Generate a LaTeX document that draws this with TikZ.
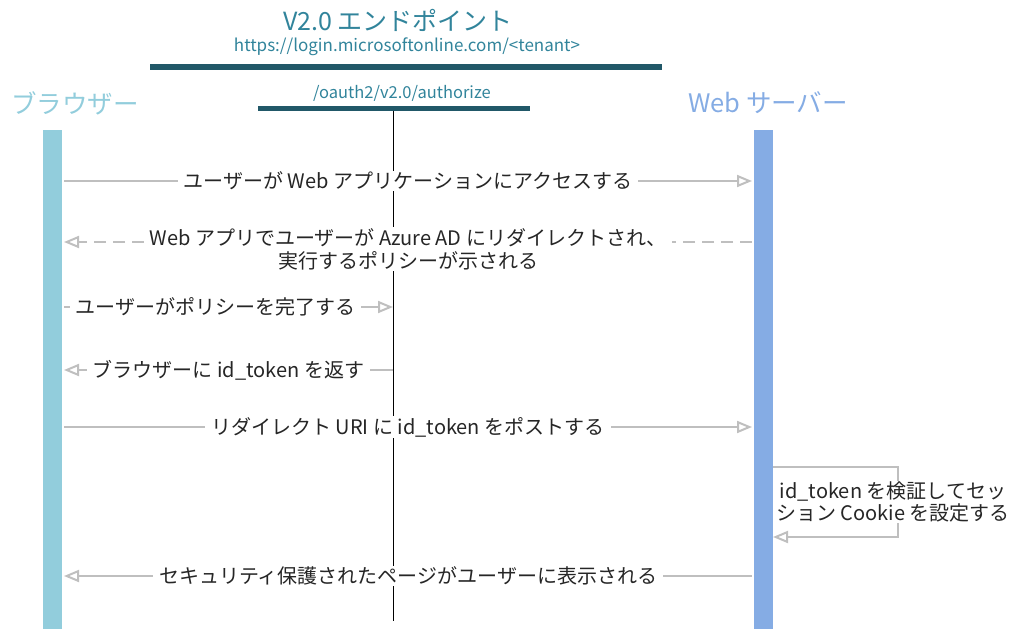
\documentclass[tikz,border=0pt]{standalone}
\usepackage{fontspec}
\setmainfont{Noto Sans CJK JP}
\usetikzlibrary{arrows.meta}

\definecolor{endpt}{HTML}{31849B}
\definecolor{endbar}{HTML}{215868}
\definecolor{brwcol}{HTML}{92CDDC}
\definecolor{srvcol}{HTML}{85ACE4}
\definecolor{msgcol}{HTML}{BFBFBF}

\begin{document}
\begin{tikzpicture}[x=1pt, y=-1pt, >={Triangle[open, length=15pt, width=12pt]},
  bar/.style={fill=endbar, inner sep=0pt, minimum height=5pt},
  life/.style={inner sep=0pt, minimum width=19pt, minimum height=499pt, anchor=north},
  head/.style={font=\fontsize{25.5}{29}\selectfont},
  msg/.style={draw=msgcol, line width=2pt},
  lbl/.style={fill=white, inner xsep=6pt, inner ysep=1pt, align=center, text=black!85,
    font=\fontsize{20}{23}\selectfont}]
  \useasboundingbox (0,0) rectangle (1011,629);

  % endpoint header
  \node[head, text=endpt, font=\fontsize{25}{29}\selectfont] (eptitle) at (398,20) {V2.0 エンドポイント};
  \node[text=endpt, font=\fontsize{17}{20}\selectfont] (epurl) at (407,47) {https://login.microsoftonline.com/<tenant>};
  \node[bar, minimum width=512pt, minimum height=6pt] (epbar) at (406,67) {};
  \node[text=endpt, font=\fontsize{16.5}{20}\selectfont] (authtext) at (402,93) {/oauth2/v2.0/authorize};
  \node[bar, minimum width=272pt] (authbar) at (394,108) {};

  % browser and web server
  \node[head, text=brwcol] (brwtitle) at (75,103) {ブラウザー};
  \node[head, text=srvcol] (srvtitle) at (768,103) {Web サーバー};
  \node[life, fill=brwcol] (brw) at (52.5,130) {};
  \node[life, fill=srvcol] (srv) at (763.5,130) {};

  \coordinate (authend) at (393,621);
  \draw[line width=0.9pt] (authbar.south -| authend) -- (authend);

  \foreach \n/\y in {1/181,2/242,3/307,4/370,5/427,7/576} {
    \coordinate (b\n) at (64,\y);
    \coordinate (m\n) at (393,\y);
    \coordinate (s\n) at (752,\y);
  }
  \coordinate (s6a) at (773,467);
  \coordinate (s6b) at (898,467);
  \coordinate (s6c) at (898,537);
  \coordinate (s6d) at (773,537);

  % messages
  \draw[msg, ->] (b1) -- (s1) node[lbl, midway] {ユーザーが Web アプリケーションにアクセスする};
  \draw[msg, ->, dash pattern=on 12pt off 7pt] (s2) -- (b2)
    node[lbl, midway, yshift=-7pt] {Web アプリでユーザーが Azure AD にリダイレクトされ、\\実行するポリシーが示される};
  \draw[msg, ->] (b3) -- (m3) node[lbl, pos=0.46] {ユーザーがポリシーを完了する};
  \draw[msg, ->] (m4) -- (b4) node[lbl, midway] {ブラウザーに id\_token を返す};
  \draw[msg, ->] (b5) -- (s5) node[lbl, midway] {リダイレクト URI に id\_token をポストする};
  \draw[msg, ->] (s6a) -- (s6b) -- (s6c) -- (s6d);
  \node[lbl, inner xsep=1pt, font=\fontsize{20}{22}\selectfont] (selfchk) at (893,502) {id\_token を検証してセッ\\ション Cookie を設定する};
  \draw[msg, ->] (s7) -- (b7) node[lbl, midway] {セキュリティ保護されたページがユーザーに表示される};
\end{tikzpicture}
\end{document}
